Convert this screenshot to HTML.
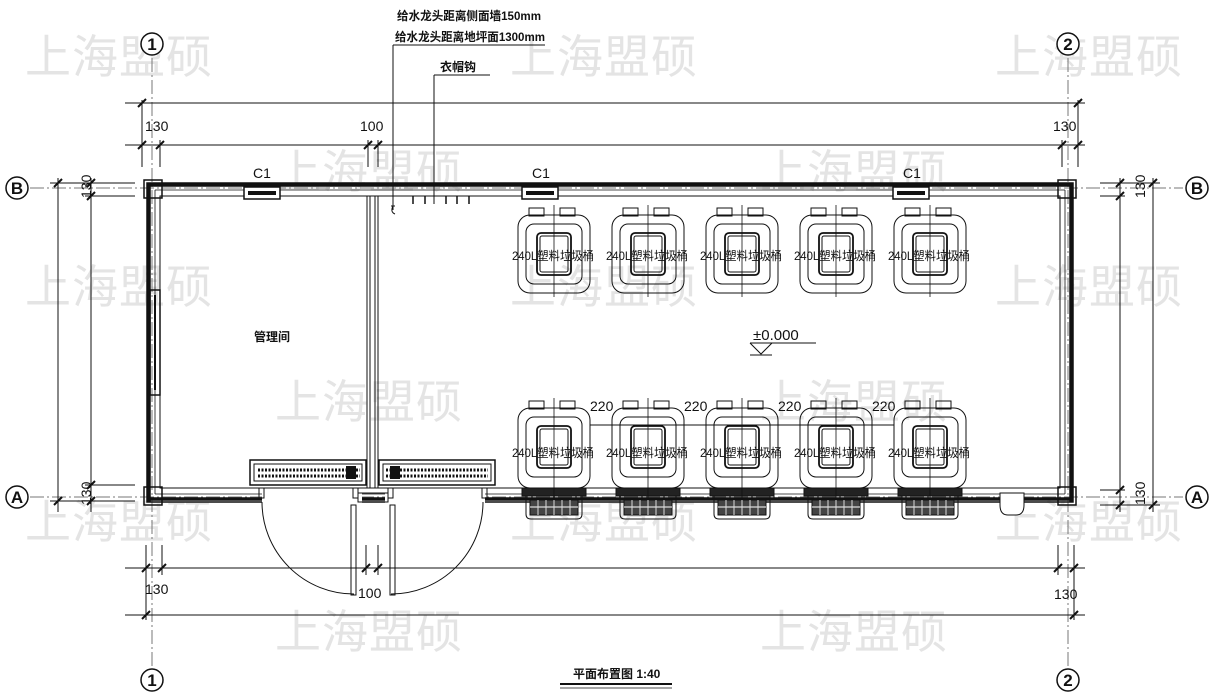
<!DOCTYPE html>
<html><head><meta charset="utf-8"><style>
html,body{margin:0;padding:0;background:#fff;}
svg{display:block;}
text{font-family:"Liberation Sans","Noto Sans CJK SC",sans-serif;}
.wm{font-family:"Noto Sans CJK SC",sans-serif;font-size:46px;fill:#e4e4e4;letter-spacing:1px;}
.d{font-size:14px;fill:#111;}
.b{font-size:12px;fill:#111;font-family:"Noto Sans CJK SC",sans-serif;}
</style></head><body>
<svg width="1212" height="700" viewBox="0 0 1212 700" xmlns="http://www.w3.org/2000/svg">
<defs>
<g id="binT" fill="none" stroke="#111" stroke-width="1">
  <rect x="-25" y="-7" width="15" height="8"/><rect x="6" y="-7" width="15" height="8"/>
  <rect x="-36" y="0" width="72" height="78" rx="12"/>
  <rect x="-28" y="9" width="56" height="60" rx="8"/>
  <rect x="-17" y="18" width="34" height="42" rx="4" stroke-width="1.8"/>
  <rect x="-14" y="21" width="28" height="36" rx="2"/>
  <line x1="0" y1="-10" x2="0" y2="82" stroke-width="0.8"/>
</g>
<g id="binB" fill="none" stroke="#111" stroke-width="1">
  <rect x="-25" y="-7" width="15" height="8"/><rect x="6" y="-7" width="15" height="8"/>
  <rect x="-36" y="0" width="72" height="80" rx="12"/>
  <rect x="-28" y="9" width="56" height="60" rx="8"/>
  <rect x="-17" y="18" width="34" height="42" rx="4" stroke-width="1.8"/>
  <rect x="-14" y="21" width="28" height="36" rx="2"/>
  <rect x="-32" y="80" width="64" height="8" fill="#222"/>
  <path d="M-28 88 L-28 106 Q-28 111 -23 111 L23 111 Q28 111 28 106 L28 88"/>
  <rect x="-24" y="92" width="48" height="15" fill="#444"/>
  <line x1="-24" y1="99" x2="24" y2="99" stroke="#fff"/>
  <path d="M-16 92 v15 M-8 92 v15 M0 92 v15 M8 92 v15 M16 92 v15" stroke="#ddd" stroke-width="1"/>
  <line x1="0" y1="-10" x2="0" y2="90" stroke-width="0.8"/>
</g>
</defs>

<g class="wm">
<text x="25" y="73" class="wm">上海盟硕</text><text x="510" y="73" class="wm">上海盟硕</text><text x="995" y="73" class="wm">上海盟硕</text>
<text x="275" y="188" class="wm">上海盟硕</text><text x="760" y="188" class="wm">上海盟硕</text>
<text x="25" y="303" class="wm">上海盟硕</text><text x="510" y="303" class="wm">上海盟硕</text><text x="995" y="303" class="wm">上海盟硕</text>
<text x="275" y="418" class="wm">上海盟硕</text><text x="760" y="418" class="wm">上海盟硕</text>
<text x="25" y="538" class="wm">上海盟硕</text><text x="510" y="538" class="wm">上海盟硕</text><text x="995" y="538" class="wm">上海盟硕</text>
<text x="275" y="648" class="wm">上海盟硕</text><text x="760" y="648" class="wm">上海盟硕</text>
</g>

<g stroke="#111" fill="none">
<line x1="152" y1="58" x2="152" y2="668" stroke="#777" stroke-dasharray="14 3 2 3"/>
<line x1="1068" y1="58" x2="1068" y2="668" stroke="#777" stroke-dasharray="14 3 2 3"/>
<line x1="30" y1="188" x2="1183" y2="188" stroke="#777" stroke-dasharray="14 3 2 3"/>
<line x1="30" y1="497" x2="1183" y2="497" stroke="#777" stroke-dasharray="14 3 2 3"/>
<line x1="125" y1="103" x2="1085" y2="103"/>
<line x1="125" y1="145" x2="1085" y2="145"/>
<line x1="142" y1="100" x2="142" y2="167"/><line x1="1078" y1="100" x2="1078" y2="167"/>
<line x1="160" y1="140" x2="160" y2="167"/><line x1="1062" y1="140" x2="1062" y2="167"/>
<line x1="368" y1="140" x2="368" y2="167"/><line x1="378" y1="140" x2="378" y2="167"/>
<line x1="125" y1="568" x2="1085" y2="568"/>
<line x1="125" y1="615" x2="1085" y2="615"/>
<line x1="146" y1="545" x2="146" y2="620"/><line x1="162" y1="545" x2="162" y2="575"/>
<line x1="1058" y1="545" x2="1058" y2="575"/><line x1="1074" y1="545" x2="1074" y2="620"/>
<line x1="366" y1="545" x2="366" y2="575"/><line x1="378" y1="545" x2="378" y2="575"/>
<line x1="58" y1="178" x2="58" y2="512"/><line x1="91" y1="178" x2="91" y2="512"/>
<line x1="50" y1="183" x2="135" y2="183"/><line x1="85" y1="196" x2="135" y2="196"/>
<line x1="85" y1="485" x2="135" y2="485"/><line x1="50" y1="501" x2="135" y2="501"/>
<line x1="1120" y1="178" x2="1120" y2="512"/><line x1="1153" y1="178" x2="1153" y2="512"/>
<line x1="1100" y1="183" x2="1160" y2="183"/><line x1="1100" y1="196" x2="1125" y2="196"/>
<line x1="1100" y1="490" x2="1125" y2="490"/><line x1="1100" y1="505" x2="1160" y2="505"/>
</g>
<g stroke="#111" stroke-width="2">
<path d="M138 107 l8 -8 M156 149 l8 -8 M138 149 l8 -8 M364 149 l8 -8 M374 149 l8 -8 M1058 149 l8 -8 M1074 149 l8 -8 M1074 107 l8 -8"/>
<path d="M142 572 l8 -8 M158 572 l8 -8 M362 572 l8 -8 M374 572 l8 -8 M1054 572 l8 -8 M1070 572 l8 -8 M1070 619 l8 -8 M142 619 l8 -8"/>
<path d="M54 187 l8 -8 M87 187 l8 -8 M87 200 l8 -8 M87 489 l8 -8 M87 505 l8 -8 M54 505 l8 -8"/>
<path d="M1116 187 l8 -8 M1149 187 l8 -8 M1116 200 l8 -8 M1116 494 l8 -8 M1116 509 l8 -8 M1149 509 l8 -8"/>
</g>

<text class="d" x="145" y="131">130</text>
<text class="d" x="360" y="131">100</text>
<text class="d" x="1053" y="131">130</text>
<text class="d" x="145" y="594">130</text>
<text class="d" x="358" y="598">100</text>
<text class="d" x="1054" y="599">130</text>
<text class="d" transform="translate(91,198) rotate(-90)">130</text>
<text class="d" transform="translate(91,505) rotate(-90)">130</text>
<text class="d" transform="translate(1145,198) rotate(-90)">130</text>
<text class="d" transform="translate(1145,505) rotate(-90)">130</text>

<g fill="#fff" stroke="#111" stroke-width="1.5">
<circle cx="152" cy="44" r="11"/><circle cx="152" cy="680" r="11"/>
<circle cx="1068" cy="44" r="11"/><circle cx="1068" cy="680" r="11"/>
<circle cx="17" cy="188" r="11"/><circle cx="17" cy="497" r="11"/>
<circle cx="1197" cy="188" r="11"/><circle cx="1197" cy="497" r="11"/>
</g>
<g font-size="17" font-weight="bold" text-anchor="middle" fill="#111">
<text x="152" y="50">1</text><text x="152" y="686">1</text>
<text x="1068" y="50">2</text><text x="1068" y="686">2</text>
<text x="17" y="194">B</text><text x="17" y="503">A</text>
<text x="1197" y="194">B</text><text x="1197" y="503">A</text>
</g>

<g fill="none" stroke="#111">
<rect x="147" y="183" width="926" height="319" stroke-width="1.5"/>
<line x1="147" y1="185" x2="1073" y2="185" stroke-width="3.5"/>
<line x1="147" y1="499" x2="1073" y2="499" stroke-width="3.5"/>
<line x1="149" y1="183" x2="149" y2="502" stroke-width="3.5"/>
<line x1="1071" y1="183" x2="1071" y2="502" stroke-width="3.5"/>
<rect x="160" y="196" width="900" height="292"/>
<line x1="155" y1="190" x2="1065" y2="190" stroke-width="0.8"/>
<line x1="155" y1="494" x2="1065" y2="494" stroke-width="0.8"/>
<line x1="155" y1="190" x2="155" y2="494" stroke-width="0.8"/>
<line x1="1065" y1="190" x2="1065" y2="494" stroke-width="0.8"/>
<line x1="367" y1="196" x2="367" y2="488"/><line x1="370" y1="196" x2="370" y2="488"/>
<line x1="375" y1="196" x2="375" y2="488"/><line x1="378" y1="196" x2="378" y2="488"/>
<rect x="150" y="290" width="10" height="105" stroke-width="1.5"/>
<line x1="155" y1="295" x2="155" y2="390" stroke-width="2"/>
</g>
<rect x="144" y="180" width="18" height="18" fill="none" stroke="#111" stroke-width="1.5"/>
<rect x="1058" y="180" width="18" height="18" fill="none" stroke="#111" stroke-width="1.5"/>
<rect x="144" y="487" width="18" height="18" fill="none" stroke="#111" stroke-width="1.5"/>
<rect x="1058" y="487" width="18" height="18" fill="none" stroke="#111" stroke-width="1.5"/>

<g fill="#fff" stroke="#111" stroke-width="1.5">
<rect x="244" y="187" width="36" height="12"/><rect x="522" y="187" width="36" height="12"/><rect x="893" y="187" width="36" height="12"/>
</g>
<g fill="#111"><rect x="248" y="191" width="28" height="4"/><rect x="526" y="191" width="28" height="4"/><rect x="897" y="191" width="28" height="4"/></g>
<text class="d" x="253" y="178">C1</text><text class="d" x="532" y="178">C1</text><text class="d" x="903" y="178">C1</text>

<rect x="262" y="490" width="100" height="14" fill="#fff"/>
<rect x="385" y="490" width="100" height="14" fill="#fff"/>
<g fill="none" stroke="#111">
<rect x="259" y="488" width="5" height="10"/><rect x="353" y="488" width="5" height="10"/>
<rect x="388" y="488" width="5" height="10"/><rect x="482" y="488" width="5" height="10"/>
<rect x="358" y="493" width="30" height="9"/>
<path d="M262 502 A92 92 0 0 0 354 594"/>
<rect x="351" y="505" width="5" height="90"/>
<path d="M483 502 A92 92 0 0 1 391 594"/>
<rect x="390" y="505" width="5" height="90"/>
</g>
<g fill="none" stroke="#111" stroke-width="1.5">
<rect x="250" y="460" width="116" height="25"/><rect x="254" y="464" width="108" height="17" stroke-width="1"/>
<rect x="379" y="460" width="116" height="25"/><rect x="383" y="464" width="108" height="17" stroke-width="1"/>
</g>
<g stroke="#111" stroke-dasharray="2 1.5">
<line x1="258" y1="470" x2="360" y2="470" stroke-width="3"/><line x1="258" y1="476" x2="360" y2="476" stroke-width="3"/>
<line x1="386" y1="470" x2="488" y2="470" stroke-width="3"/><line x1="386" y1="476" x2="488" y2="476" stroke-width="3"/>
</g>
<rect x="346" y="466" width="10" height="13" fill="#111"/><rect x="390" y="466" width="10" height="13" fill="#111"/>

<g stroke="#111" fill="none">
<line x1="393" y1="45" x2="545" y2="45"/>
<line x1="393" y1="45" x2="393" y2="210"/>
<path d="M391 206 l4 0 M393 206 q-3 6 2 8"/>
<line x1="434" y1="75" x2="490" y2="75"/>
<line x1="434" y1="75" x2="434" y2="204"/>
<path d="M413 196 v8 M425 196 v8 M446 196 v8 M457 196 v8 M469 196 v8" stroke-width="1.5"/>
</g>
<g class="b" font-size="12" font-weight="bold">
<text x="397" y="20" textLength="144" lengthAdjust="spacingAndGlyphs">给水龙头距离侧面墙150mm</text>
<text x="395" y="41" textLength="150" lengthAdjust="spacingAndGlyphs">给水龙头距离地坪面1300mm</text>
<text x="440" y="71">衣帽钩</text>
<text x="254" y="341">管理间</text>
</g>

<use href="#binT" x="554" y="215"/><use href="#binT" x="648" y="215"/><use href="#binT" x="742" y="215"/><use href="#binT" x="836" y="215"/><use href="#binT" x="930" y="215"/>
<g class="b">
<text x="512" y="260" textLength="82" lengthAdjust="spacingAndGlyphs">240L塑料垃圾桶</text><text x="606" y="260" textLength="82" lengthAdjust="spacingAndGlyphs">240L塑料垃圾桶</text><text x="700" y="260" textLength="82" lengthAdjust="spacingAndGlyphs">240L塑料垃圾桶</text><text x="794" y="260" textLength="82" lengthAdjust="spacingAndGlyphs">240L塑料垃圾桶</text><text x="888" y="260" textLength="82" lengthAdjust="spacingAndGlyphs">240L塑料垃圾桶</text>
</g>
<use href="#binB" x="554" y="408"/><use href="#binB" x="648" y="408"/><use href="#binB" x="742" y="408"/><use href="#binB" x="836" y="408"/><use href="#binB" x="930" y="408"/>
<g class="b">
<text x="512" y="457" textLength="82" lengthAdjust="spacingAndGlyphs">240L塑料垃圾桶</text><text x="606" y="457" textLength="82" lengthAdjust="spacingAndGlyphs">240L塑料垃圾桶</text><text x="700" y="457" textLength="82" lengthAdjust="spacingAndGlyphs">240L塑料垃圾桶</text><text x="794" y="457" textLength="82" lengthAdjust="spacingAndGlyphs">240L塑料垃圾桶</text><text x="888" y="457" textLength="82" lengthAdjust="spacingAndGlyphs">240L塑料垃圾桶</text>
</g>
<line x1="590" y1="425" x2="894" y2="425" stroke="#111"/>
<g class="d"><text x="590" y="411">220</text><text x="684" y="411">220</text><text x="778" y="411">220</text><text x="872" y="411">220</text></g>

<path d="M1000 493 h24 v12 q0 10 -8 10 h-8 q-8 0 -8 -10 z" fill="#fff" stroke="#111"/>

<text x="753" y="340" font-size="15" fill="#111">±0.000</text>
<g stroke="#111" fill="none"><line x1="750" y1="343" x2="816" y2="343"/><path d="M750 343 l11 11 l11 -11"/><line x1="750" y1="355" x2="772" y2="355"/></g>

<text x="573" y="678" font-size="12" font-weight="bold" fill="#111" font-family="Noto Sans CJK SC,sans-serif">平面布置图 1:40</text>
<line x1="560" y1="684" x2="672" y2="684" stroke="#111" stroke-width="2"/>
<line x1="560" y1="688" x2="672" y2="688" stroke="#111" stroke-width="0.8"/>
</svg>
</body></html>
